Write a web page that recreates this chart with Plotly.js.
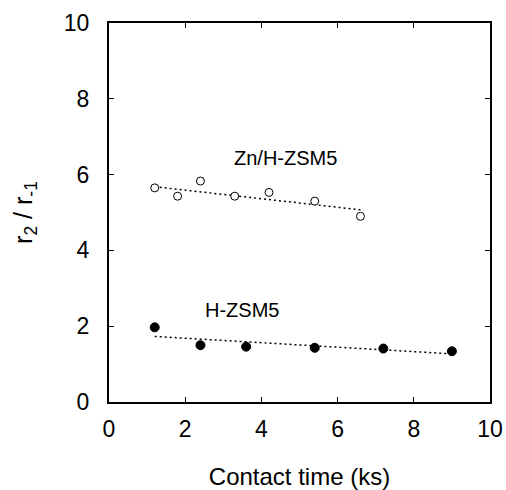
<!DOCTYPE html>
<html><head><meta charset="utf-8">
<script src="https://cdn.plot.ly/plotly-3.0.1.min.js"></script>
<style>body{margin:0;background:#fff}#c{width:506px;height:490px}</style>
</head><body><div id="c"></div>
<script>
// Zn/H-ZSM5 (open circles)
var znX = [1.2, 1.8, 2.4, 3.3, 4.2, 5.4, 6.6];
var znY = [5.65, 5.43, 5.83, 5.43, 5.53, 5.3, 4.9];
var znFitX = [1.2, 6.6];
var znFitY = [5.68, 5.07];
// H-ZSM5 (filled circles)
var hX = [1.2, 2.4, 3.6, 5.4, 7.2, 9.0];
var hY = [1.97, 1.5, 1.46, 1.43, 1.41, 1.34];
var hFitX = [1.2, 9.0];
var hFitY = [1.73, 1.27];
var xTicks = [0, 2, 4, 6, 8, 10];
var yTicks = [0, 2, 4, 6, 8, 10];

var fnt = "Liberation Sans, Arial, sans-serif";
var traces = [
  {x: znFitX, y: znFitY, mode: 'lines', line: {color: '#000', width: 1.5, dash: '2px,3px'}, hoverinfo: 'skip'},
  {x: hFitX, y: hFitY, mode: 'lines', line: {color: '#000', width: 1.5, dash: '2px,3px'}, hoverinfo: 'skip'},
  {x: znX, y: znY, mode: 'markers', marker: {symbol: 'circle', size: 8, color: '#fff', line: {color: '#000', width: 1}}},
  {x: hX, y: hY, mode: 'markers', marker: {symbol: 'circle', size: 9, color: '#000', line: {color: '#000', width: 1}}}
];
var ax = {
  showgrid: false, zeroline: false, showline: true, linecolor: '#000', linewidth: 2,
  mirror: 'allticks', ticks: 'inside', ticklen: 5, tickwidth: 1, tickcolor: '#000',
  tickfont: {family: fnt, size: 23, color: '#000'}
};
var layout = {
  width: 506, height: 490, showlegend: false,
  paper_bgcolor: '#fff', plot_bgcolor: '#fff',
  margin: {l: 109, r: 16, t: 23, b: 88},
  xaxis: Object.assign({}, ax, {range: [0, 10], tickvals: xTicks, ticktext: xTicks.map(String), ticklabelstandoff: 5,
    title: {text: 'Contact time (ks)', font: {family: fnt, size: 24, color: '#000'}, standoff: 28}}),
  yaxis: Object.assign({}, ax, {range: [0, 10], tickvals: yTicks, ticktext: yTicks.map(String), ticklabelstandoff: 13,
    title: {text: 'r<sub>2</sub> / r<sub>-1</sub>', font: {family: fnt, size: 25, color: '#000'}, standoff: 24}}),
  annotations: [
    {x: 4.62, y: 6.43, xref: 'x', yref: 'y', text: 'Zn/H-ZSM5', showarrow: false, font: {family: fnt, size: 20, color: '#000'}},
    {x: 3.48, y: 2.44, xref: 'x', yref: 'y', text: 'H-ZSM5', showarrow: false, font: {family: fnt, size: 20, color: '#000'}}
  ]
};
Plotly.newPlot('c', traces, layout, {staticPlot: true});
</script></body></html>
